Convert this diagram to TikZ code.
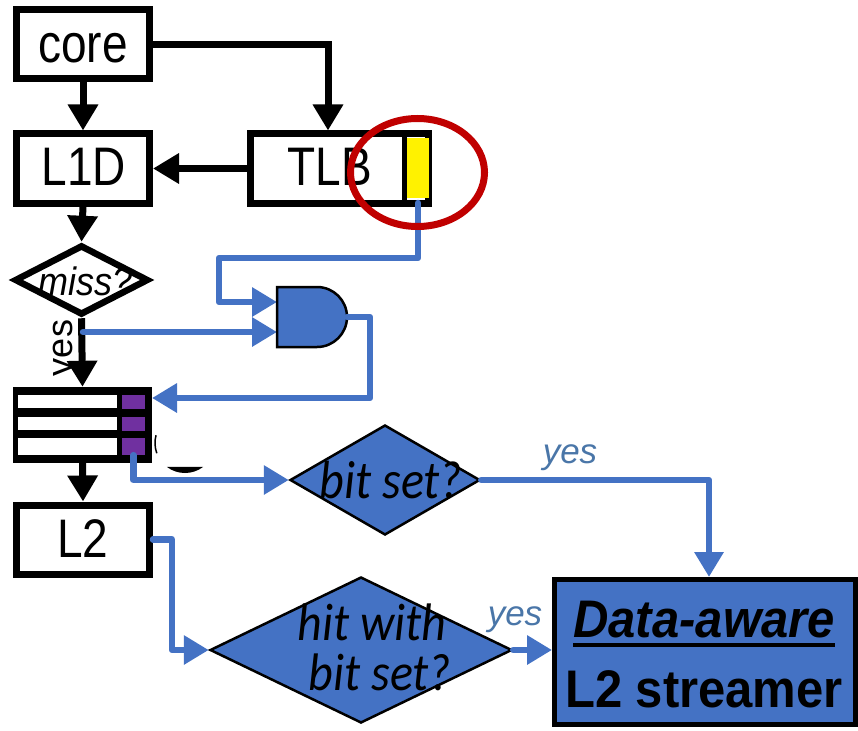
\documentclass[tikz,border=0pt]{standalone}
\usepackage{fontspec}
\setmainfont{Liberation Sans}
\newfontfamily\calib{Carlito}
\usetikzlibrary{arrows.meta,shapes.geometric,calc}
\definecolor{ablue}{HTML}{4472C4}
\definecolor{apurple}{HTML}{7030A0}
\definecolor{ared}{HTML}{C00000}
\definecolor{yesblue}{HTML}{4A76A8}

\begin{document}
\begin{tikzpicture}[x=1pt,y=-1pt,
  box/.style={draw=black, line width=7pt, fill=white, inner sep=0pt,
              minimum width=133pt, minimum height=69pt},
  blk/.style={draw=black, line width=7pt, -{Triangle[width=29pt,length=26pt]}},
  blu/.style={draw=ablue, line width=6.5pt, line cap=round, line join=round,
              -{Triangle[width=28pt,length=25pt]}},
  boxtext/.style={inner sep=0pt, anchor=base, font=\fontsize{46}{48}\selectfont},
  qtext/.style={inner sep=0pt, anchor=base, font=\calib\itshape\fontsize{48}{48}\selectfont},
  yestext/.style={inner sep=0pt, anchor=base, text=yesblue,
                  font=\itshape\fontsize{35}{36}\selectfont},
  bluediamond/.style={diamond, draw=black, fill=ablue, line width=2.5pt, inner sep=0pt}
]
\useasboundingbox (0,0) rectangle (858,730);

% --- black control path ---
\node[box] (core) at (83,44.5) {};
\node[boxtext] (coret) at (83,63) {\scalebox{1}[1.18]{core}};
\node[box] (L1D) at (83,168.5) {};
\node[boxtext] (L1Dt) at (84,185) {\scalebox{1}[1.18]{L1D}};
\node[box, minimum width=178pt] (TLB) at (339.5,168.5) {};
\node[boxtext] (TLBt) at (330,185) {\scalebox{1}[1.18]{TLB}};
% TLB flag bit
\node[fill=yellow, inner sep=0pt, minimum width=22pt, minimum height=60pt] (flag) at (418,168) {};
\draw[line width=5pt] (404.5,133) -- (404.5,204);

\node[diamond, draw=black, fill=white, line width=6.5pt, inner sep=0pt,
      minimum width=134pt, minimum height=70pt] (miss) at (81.5,280) {};
\node[inner sep=0pt, anchor=base, font=\itshape\fontsize{36}{36}\selectfont] (misst) at (86,295)
  {\scalebox{1}[1.1]{miss?}};

% fill buffer with flag bits
\node[fill=black, inner sep=0pt, minimum width=139pt, minimum height=76pt] (buf) at (82.5,425) {};
\fill[white] (18,395) rectangle (117,408);
\fill[white] (18,417) rectangle (117,430);
\fill[white] (18,438) rectangle (117,455);
\node[fill=apurple, inner sep=0pt, minimum width=23pt, minimum height=14pt] (p1) at (133.5,401.5) {};
\node[fill=apurple, inner sep=0pt, minimum width=23pt, minimum height=14pt] (p2) at (133.5,423.5) {};
\node[fill=apurple, inner sep=0pt, minimum width=23pt, minimum height=17pt] (p3) at (133.5,446.5) {};
% partly hidden round mark beside the buffer
\draw[line width=1.5pt] (185,443) ++(160:30) arc[start angle=160, end angle=195, radius=30];
\fill[black] (185,443) ++(53:30) arc[start angle=53, end angle=127, radius=30] -- cycle;

\node[box] (L2) at (83,539.5) {};
\node[boxtext] (L2t) at (83,557) {\scalebox{1}[1.18]{L2}};

\draw[blk] (core) -- (L1D);
\draw[blk] (core.east) -| ($(TLB.north)+(-11.5,0)$);
\draw[blk] (TLB.west) -- (L1D.east);
\draw[blk] (L1D.south) -- (miss.north);
\draw[blk] (miss.south) -- (buf.north);
\draw[blk] (buf.south) -- (L2.north);
\node[inner sep=0pt, anchor=base, rotate=90, font=\fontsize{36}{36}\selectfont] (yes0) at (72,348) {yes};

% --- AND gate ---
\coordinate (andin1) at (277,302);
\coordinate (andin2) at (277,332);
\coordinate (andout) at (347,317);
\coordinate (tlbtap) at (418,203);
\coordinate (yestap) at (83,332);
\coordinate (bufin) at (152,398);

\draw[blu] (tlbtap) |- (219,258) |- (andin1);
\draw[blu] (yestap) -- (andin2);
\draw[fill=ablue, draw=black, line width=2.5pt] (277,287) -- (317,287)
  arc[start angle=-90, end angle=90, radius=30] -- (277,347) -- cycle;
\draw[blu] (andout) -| (370,398) -- (bufin);

\draw[ared, line width=7pt] (417.5,172.5) ellipse [x radius=67, y radius=54];

% --- data-aware decisions ---
\node[bluediamond, minimum width=190pt, minimum height=110pt] (bitset) at (385,480) {};
\node[qtext] (bitsett) at (391,498) {\scalebox{1}[1.12]{bit set?}};
\node[bluediamond, minimum width=302pt, minimum height=146pt] (hit) at (361,650) {};
\node[qtext] (hitt1) at (372,640) {\scalebox{1}[1.1]{hit with}};
\node[qtext] (hitt2) at (380,690) {\scalebox{1}[1.1]{bit set?}};

\node[draw=black, fill=ablue, line width=5pt, inner sep=0pt,
      minimum width=301pt, minimum height=145pt] (DA) at (705,652) {};
\node[inner sep=0pt, anchor=base, font=\bfseries\itshape\fontsize{49}{50}\selectfont] (DAt1) at (704,637)
  {\scalebox{1}[1.08]{Data-aware}};
\draw[line width=4pt] (573,645) -- (835,645);
\node[inner sep=0pt, anchor=base, font=\bfseries\fontsize{49}{50}\selectfont] (DAt2) at (704,707)
  {\scalebox{1}[1.08]{L2 streamer}};

\draw[blu] (p3.south) |- (bitset.west);
\draw[blu] (bitset.east) -| ($(DA.north)+(4,0)$);
\node[yestext] (yes1) at (570,463) {yes};
\draw[blu] (L2.east) -| (172,650) -- (hit.west);
\draw[blu] (hit.east) -- (hit.east -| DA.west);
\node[yestext] (yes2) at (515,625) {yes};
\end{tikzpicture}
\end{document}
